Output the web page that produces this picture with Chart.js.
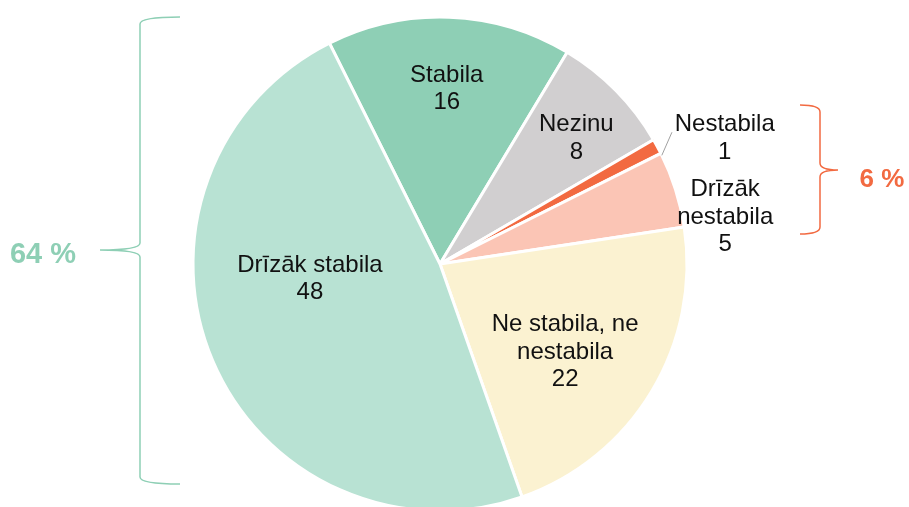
<!DOCTYPE html>
<html>
<head>
<meta charset="utf-8">
<script src="https://cdn.jsdelivr.net/npm/chart.js"></script>
<style>
  html, body { margin: 0; padding: 0; background: #fff; overflow: hidden; }
  #wrap { width: 909px; height: 507px; overflow: hidden; }
</style>
</head>
<body>
<div id="wrap"><canvas id="pie" width="909" height="530"></canvas></div>
<script>
// data, clockwise from the top
var categories = ['Stabila', 'Nezinu', 'Nestabila', 'Drīzāk nestabila', 'Ne stabila, ne nestabila', 'Drīzāk stabila']
var values = [16, 8, 1, 5, 22, 48]
var labelLines = [['Stabila'], ['Nezinu'], ['Nestabila'], ['Drīzāk', 'nestabila'], ['Ne stabila, ne', 'nestabila'], ['Drīzāk stabila']]
var colors = ['#8ecfb5', '#d1cfd0', '#f26a41', '#fbc5b5', '#fbf2d1', '#b8e2d3']

// where each label sits: fraction of radius + angle nudge (deg)
var labelPlace = [
    { frac: 0.71, turn: 0 },
    { frac: 0.75, turn: 2 },
    { frac: 1.26, turn: 4.6, leader: true },
    { frac: 1.17, turn: 8.3 },
    { frac: 0.62, turn: 4.2 },
    { frac: 0.53, turn: 16.4 }
]

var groups = [
    { text: '64 %', color: '#8ecfb5', size: 29, x1: 180, xv: 140, xp: 100, top: 17, mid: 250, bottom: 484, tx: 43, ty: 255 },
    { text: '6 %', color: '#f26a41', size: 26, x1: 800, xv: 820, xp: 838, top: 105, mid: 170, bottom: 234, tx: 882, ty: 180 }
]

var FONT = '"Liberation Sans", Arial, Helvetica, sans-serif'

var sliceLabels = {
    id: 'sliceLabels',
    afterDatasetsDraw: function (chart) {
        var ctx = chart.ctx
        var arcs = chart.getDatasetMeta(0).data
        ctx.save()
        arcs.forEach(function (arc, i) {
            var p = arc.getProps(['x', 'y', 'startAngle', 'endAngle', 'outerRadius'], true)
            var place = labelPlace[i]
            var mid = (p.startAngle + p.endAngle) / 2
            var a = mid + place.turn * Math.PI / 180
            var lx = p.x + Math.cos(a) * place.frac * p.outerRadius
            var ly = p.y + Math.sin(a) * place.frac * p.outerRadius

            if (place.leader) {
                var a1 = mid + 2.3 * Math.PI / 180
                var a2 = mid - 1.2 * Math.PI / 180
                ctx.strokeStyle = '#a0a0a0'
                ctx.lineWidth = 1
                ctx.beginPath()
                ctx.moveTo(p.x + Math.cos(a1) * p.outerRadius, p.y + Math.sin(a1) * p.outerRadius)
                ctx.lineTo(p.x + Math.cos(a2) * p.outerRadius * 1.08, p.y + Math.sin(a2) * p.outerRadius * 1.08)
                ctx.stroke()
            }

            var lines = labelLines[i].concat([String(values[i])])
            var lh = 27.5
            ctx.fillStyle = '#111'
            ctx.font = '24px ' + FONT
            ctx.textAlign = 'center'
            ctx.textBaseline = 'middle'
            var y0 = ly - (lines.length - 1) * lh / 2
            lines.forEach(function (t, k) {
                ctx.fillText(t, lx, y0 + k * lh)
            })
        })

        // braces with group totals
        groups.forEach(function (g) {
            var dir = g.x1 > g.xv ? 1 : -1
            var c = 7
            ctx.strokeStyle = g.color
            ctx.lineWidth = 1.5
            ctx.beginPath()
            ctx.moveTo(g.x1, g.top)
            ctx.quadraticCurveTo(g.xv, g.top, g.xv, g.top + c)
            ctx.lineTo(g.xv, g.mid - c)
            ctx.quadraticCurveTo(g.xv, g.mid, g.xp, g.mid)
            ctx.quadraticCurveTo(g.xv, g.mid, g.xv, g.mid + c)
            ctx.lineTo(g.xv, g.bottom - c)
            ctx.quadraticCurveTo(g.xv, g.bottom, g.x1, g.bottom)
            ctx.stroke()

            ctx.fillStyle = g.color
            ctx.font = 'bold ' + g.size + 'px ' + FONT
            ctx.textAlign = 'center'
            ctx.textBaseline = 'middle'
            ctx.fillText(g.text, g.tx, g.ty)
        })
        ctx.restore()
    }
}

new Chart(document.getElementById('pie'), {
    type: 'pie',
    data: {
        labels: categories,
        datasets: [{
            data: values,
            backgroundColor: colors,
            borderColor: '#ffffff',
            borderWidth: 3,
            hoverOffset: 0
        }]
    },
    options: {
        responsive: false,
        devicePixelRatio: 1,
        animation: false,
        rotation: -26.6,
        radius: 247,
        layout: { padding: { left: 0, right: 29, top: 0, bottom: 2 } },
        plugins: {
            legend: { display: false },
            tooltip: { enabled: false }
        }
    },
    plugins: [sliceLabels]
})
</script>
</body>
</html>
